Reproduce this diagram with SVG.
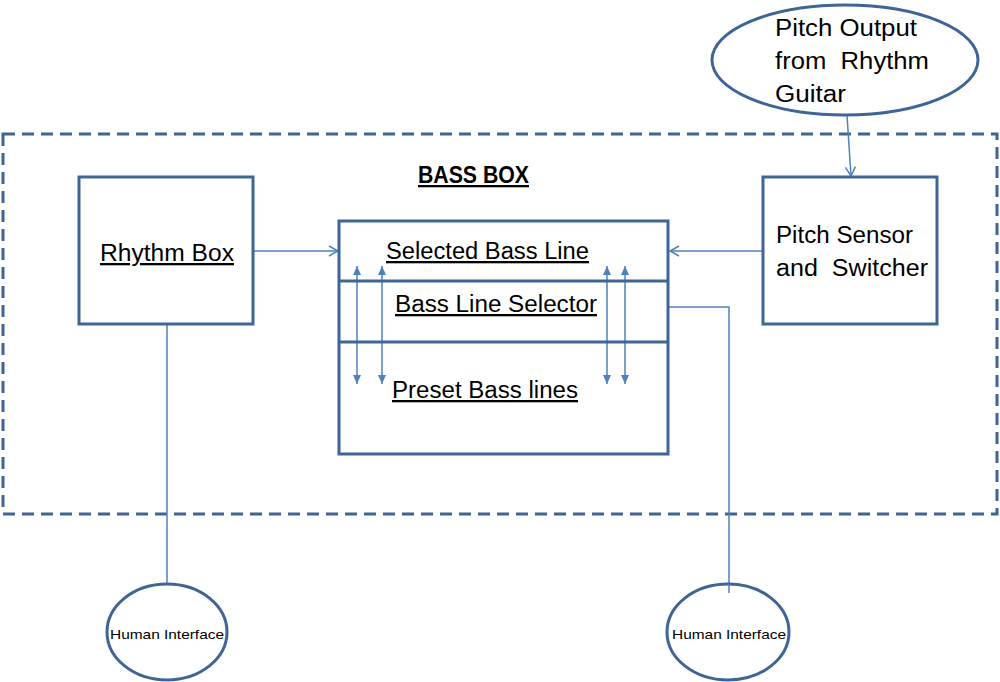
<svg xmlns="http://www.w3.org/2000/svg" width="1000" height="682" viewBox="0 0 1000 682">
<defs>
<style>
.box{fill:#fff;stroke:#3E6596;stroke-width:3}
.div{stroke:#3E6596;stroke-width:3}
.dash{fill:none;stroke:#3E6596;stroke-width:3;stroke-dasharray:12 7}
.conn{fill:none;stroke:#4F81BD;stroke-width:1.5}
.t{font-family:"Liberation Sans",Arial,sans-serif;font-size:23px;fill:#000;white-space:pre}
.u{text-decoration:underline}
.s{font-family:"Liberation Sans",Arial,sans-serif;font-size:13px;fill:#000}
</style>
<marker id="open" markerWidth="12" markerHeight="12" refX="10" refY="6" orient="auto" markerUnits="userSpaceOnUse">
<path d="M1,1 L10,6 L1,11" fill="none" stroke="#4F81BD" stroke-width="1.5"/>
</marker>
<marker id="fill" markerWidth="10" markerHeight="10" refX="9" refY="5" orient="auto-start-reverse" markerUnits="userSpaceOnUse">
<path d="M0,1 L9,5 L0,9 Z" fill="#4F81BD"/>
</marker>
</defs>
<rect width="1000" height="682" fill="#fff"/>
<g id="bassbox">
<rect class="dash" x="3" y="134" width="994" height="380"/>
<text class="t" x="418" y="183" font-weight="bold" font-size="22" text-decoration="underline" textLength="111" lengthAdjust="spacingAndGlyphs">BASS BOX</text>
</g>
<g id="connectors">
<line class="conn" x1="253" y1="251" x2="338" y2="251" marker-end="url(#open)"/>
<line class="conn" x1="763" y1="251" x2="670" y2="251" marker-end="url(#open)"/>
<line class="conn" x1="847" y1="115" x2="851" y2="176" marker-end="url(#open)"/>
<polyline class="conn" points="668,307 729,307 729,593"/>
<line class="conn" x1="167" y1="324" x2="167" y2="584"/>
<line class="conn" x1="357" y1="266" x2="357" y2="384" marker-start="url(#fill)" marker-end="url(#fill)"/>
<line class="conn" x1="382" y1="266" x2="382" y2="384" marker-start="url(#fill)" marker-end="url(#fill)"/>
<line class="conn" x1="607" y1="266" x2="607" y2="384" marker-start="url(#fill)" marker-end="url(#fill)"/>
<line class="conn" x1="625" y1="266" x2="625" y2="384" marker-start="url(#fill)" marker-end="url(#fill)"/>
</g>
<g id="rhythm-box">
<rect class="box" x="79" y="177" width="174" height="147"/>
<text class="t u" x="100" y="261" textLength="134" lengthAdjust="spacingAndGlyphs">Rhythm Box</text>
</g>
<g id="bass-line-stack">
<rect class="box" x="339" y="221" width="329" height="233" style="fill:none"/>
<line class="div" x1="339" y1="281" x2="668" y2="281"/>
<line class="div" x1="339" y1="342" x2="668" y2="342"/>
</g>
<g id="selected-bass-line">
<text class="t u" x="386" y="259" textLength="203" lengthAdjust="spacingAndGlyphs">Selected Bass Line</text>
</g>
<g id="bass-line-selector">
<text class="t u" x="395" y="312" textLength="202" lengthAdjust="spacingAndGlyphs">Bass Line Selector</text>
</g>
<g id="preset-bass-lines">
<text class="t u" x="392" y="398" textLength="186" lengthAdjust="spacingAndGlyphs">Preset Bass lines</text>
</g>
<g id="pitch-sensor">
<rect class="box" x="763" y="177" width="174" height="147"/>
<text class="t" x="776" y="243" textLength="137" lengthAdjust="spacingAndGlyphs">Pitch Sensor</text>
<text class="t" x="776" y="276" textLength="152" lengthAdjust="spacingAndGlyphs" xml:space="preserve">and  Switcher</text>
</g>
<g id="pitch-output">
<ellipse class="box" cx="845" cy="60" rx="133" ry="55"/>
<text class="t" x="775" y="36" textLength="142" lengthAdjust="spacingAndGlyphs">Pitch Output</text>
<text class="t" x="775" y="69" textLength="154" lengthAdjust="spacingAndGlyphs" xml:space="preserve">from  Rhythm</text>
<text class="t" x="775" y="102" textLength="71" lengthAdjust="spacingAndGlyphs">Guitar</text>
</g>
<g id="human-interface-left">
<ellipse class="box" cx="167" cy="632" rx="60" ry="48"/>
<text class="s" x="167" y="639" text-anchor="middle" textLength="114" lengthAdjust="spacingAndGlyphs">Human Interface</text>
</g>
<g id="human-interface-right">
<ellipse class="box" cx="728" cy="632" rx="61" ry="48"/>
<line class="conn" x1="729" y1="584" x2="729" y2="593"/>
<text class="s" x="729" y="639" text-anchor="middle" textLength="114" lengthAdjust="spacingAndGlyphs">Human Interface</text>
</g>
</svg>
